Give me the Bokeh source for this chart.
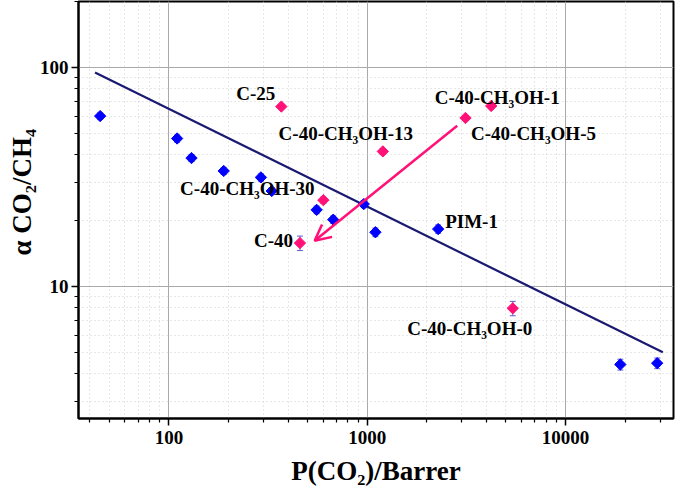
import math
from bokeh.plotting import figure
from bokeh.models import (ColumnDataSource, Whisker, TeeHead, Arrow, OpenHead, Label, Title,
                          FixedTicker, NumeralTickFormatter, Range1d)
from bokeh.embed import file_html
from bokeh.resources import INLINE

# ---------------- data ----------------
blue_x = [45, 110, 130, 189, 291, 330, 556, 674, 961, 1100, 2280, 18900, 29000]
blue_y = [60, 47.4, 38.6, 33.7, 31.5, 27.3, 22.4, 20.2, 23.8, 17.7, 18.3, 4.41, 4.47]
blue_err = [2.0, 1.8, 1.4, 1.2, 1.2, 1.0, 0.9, 0.8, 0.9, 0.8, 0.8, 0.25, 0.25]

pink_labels = ["C-25", "C-40-CH₃OH-30", "C-40", "C-40-CH₃OH-13",
               "C-40-CH₃OH-5", "C-40-CH₃OH-1", "C-40-CH₃OH-0"]
pink_x = [369, 601, 458, 1199, 3131, 4219, 5421]
pink_y = [66.3, 24.8, 15.8, 41.4, 58.8, 66.7, 7.96]
pink_err = [1.5, 0.8, 1.2, 1.2, 1.5, 1.5, 0.6]

pim_label = "PIM-1"
pim_index = 10  # PIM-1 is one of the blue points

bound_x = [42.4, 30970]
bound_y = [94.9, 5.01]

arrow_x = [2844, 543]
arrow_y = [54.2, 16.2]

x_major = [100, 1000, 10000]
y_major = [10, 100]
x_range_vals = (35, 35050)
y_range_vals = (2.5, 200)

x_title = "P(CO₂)/Barrer"
y_title = "α CO₂/CH₄"

# ---------------- styles ----------------
FONT = "Liberation Serif"
BLUE = "#0000FF"
PINK = "#FF1177"
NAVY = "#1A1A72"
ERRC = "#6A5ACD"

# label placement (screen-pixel offsets, alignment)
pink_label_style = [
    (-6, 13, "right"),
    (-76, 12, "center"),
    (-7, 3, "right"),
    (-37, 18, "center"),
    (68, -16, "center"),
    (6, 8, "center"),
    (-43, -20, "center"),
]
pim_style = (7, 8, "left")

p = figure(width=675, height=496, x_axis_type="log", y_axis_type="log",
           x_range=Range1d(*x_range_vals), y_range=Range1d(*y_range_vals),
           output_backend="svg", toolbar_location=None,
           min_border_left=78, min_border_right=2, min_border_top=1, min_border_bottom=78,
           background_fill_color="white", border_fill_color="white")

def minors(lo, hi):
    out = []
    d = 1
    while d < hi * 10:
        for k in range(2, 10):
            v = k * d
            if lo <= v <= hi:
                out.append(v)
        d *= 10
    return out

p.xaxis.ticker = FixedTicker(ticks=x_major, minor_ticks=minors(*x_range_vals))
p.yaxis.ticker = FixedTicker(ticks=y_major, minor_ticks=minors(*y_range_vals))
p.xaxis.formatter = NumeralTickFormatter(format="0")
p.yaxis.formatter = NumeralTickFormatter(format="0")

for ax in (p.xaxis, p.yaxis):
    ax.axis_line_color = "black"
    ax.axis_line_width = 2
    ax.major_tick_line_color = "black"
    ax.major_tick_line_width = 1.5
    ax.major_tick_out = 7
    ax.major_tick_in = 0
    ax.minor_tick_line_color = "black"
    ax.minor_tick_line_width = 1.2
    ax.minor_tick_out = 4
    ax.minor_tick_in = 0
    ax.major_label_text_font = FONT
    ax.major_label_text_font_style = "bold"
    ax.major_label_text_font_size = "19px"
    ax.major_label_text_color = "black"
p.xaxis.major_label_standoff = 5
p.yaxis.major_label_standoff = 3

p.xaxis.axis_label = x_title
p.xaxis.axis_label_text_font = FONT
p.xaxis.axis_label_text_font_style = "bold"
p.xaxis.axis_label_text_font_size = "27px"
p.xaxis.axis_label_text_color = "black"
p.xaxis.axis_label_standoff = 9

p.add_layout(Title(text=y_title, align="left", offset=163, standoff=0,
                   text_font=FONT, text_font_style="bold", text_font_size="27px",
                   text_color="black"), "left")

for g in (p.xgrid, p.ygrid):
    g.grid_line_color = "#aaaaaa"
    g.grid_line_width = 1
    g.minor_grid_line_color = "#cfcfcf"
    g.minor_grid_line_dash = "1 3"
    g.minor_grid_line_width = 1

p.outline_line_color = "black"
p.outline_line_width = 2

# bound line
p.line(bound_x, bound_y, line_color=NAVY, line_width=2.2)

# error bars
bsrc = ColumnDataSource(dict(x=blue_x, y=blue_y,
                             lower=[v - e for v, e in zip(blue_y, blue_err)],
                             upper=[v + e for v, e in zip(blue_y, blue_err)]))
psrc = ColumnDataSource(dict(x=pink_x, y=pink_y,
                             lower=[v - e for v, e in zip(pink_y, pink_err)],
                             upper=[v + e for v, e in zip(pink_y, pink_err)]))
for src in (bsrc, psrc):
    p.add_layout(Whisker(source=src, base="x", lower="lower", upper="upper", dimension="height",
                         line_color=ERRC, line_width=1,
                         lower_head=TeeHead(size=6, line_color=ERRC, line_width=1),
                         upper_head=TeeHead(size=6, line_color=ERRC, line_width=1)))

# markers
p.scatter("x", "y", source=bsrc, marker="square", angle=math.pi / 4, size=8,
          fill_color=BLUE, line_color=BLUE)
p.scatter("x", "y", source=psrc, marker="square", angle=math.pi / 4, size=8,
          fill_color=PINK, line_color=PINK)

# arrow
p.add_layout(Arrow(x_start=arrow_x[0], y_start=arrow_y[0], x_end=arrow_x[1], y_end=arrow_y[1],
                   line_color=PINK, line_width=2.5,
                   end=OpenHead(size=16, line_color=PINK, line_width=2.5)))

# data labels
def add_label(x, y, text, style):
    dx, dy, align = style
    p.add_layout(Label(x=x, y=y, x_offset=dx, y_offset=dy, text=text,
                       text_align=align, text_baseline="middle",
                       text_font=FONT, text_font_style="bold",
                       text_font_size="19px", text_color="black"))

for x, y, t, s in zip(pink_x, pink_y, pink_labels, pink_label_style):
    add_label(x, y, t, s)
add_label(blue_x[pim_index], blue_y[pim_index], pim_label, pim_style)

open("out.html", "w").write(file_html(p, INLINE))
